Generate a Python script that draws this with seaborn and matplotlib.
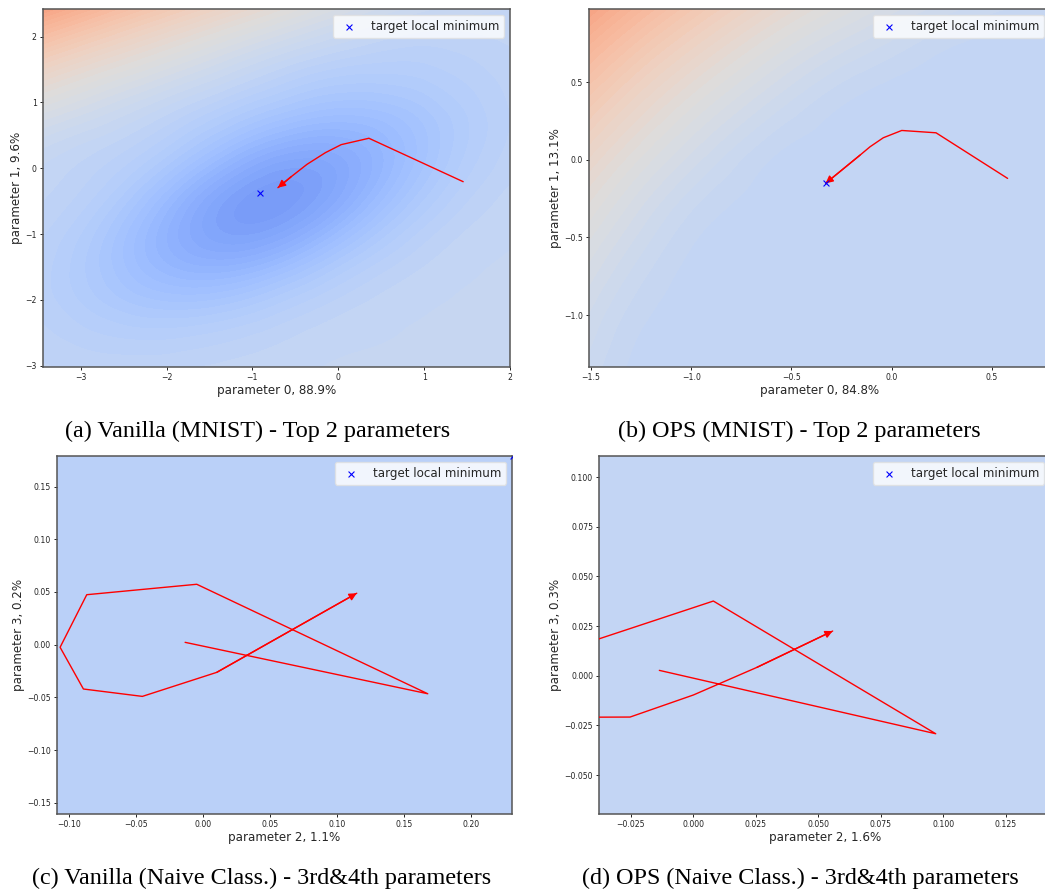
import numpy as np
import pandas as pd
import matplotlib
matplotlib.use('Agg')
import matplotlib.pyplot as plt
import matplotlib.tri as mtri
from matplotlib.ticker import MultipleLocator
import seaborn as sns

sns.set_style('ticks')
plt.rcParams['font.family'] = ['DejaVu Sans']

# ---------------- trajectories ----------------
a_path_x = [1.455, 0.357, 0.034, -0.150, -0.364, -0.550, -0.703]
a_path_y = [-0.204, 0.456, 0.359, 0.237, 0.060, -0.130, -0.295]
a_target = [-0.917, -0.371]

b_path_x = [0.578, 0.221, 0.050, -0.042, -0.108, -0.158, -0.330]
b_path_y = [-0.119, 0.175, 0.190, 0.143, 0.085, 0.031, -0.151]
b_target = [-0.330, -0.151]

c_path_x = [-0.0134, 0.1677, -0.0047, -0.0868, -0.1067, -0.0893, -0.0453, 0.0102, 0.1147]
c_path_y = [0.0022, -0.0466, 0.0573, 0.0474, -0.0025, -0.0421, -0.0491, -0.0263, 0.0488]
c_target = [0.2315, 0.1795]

d_path_x = [-0.0136, 0.0969, 0.0080, -0.047, -0.057, -0.047, -0.0253, 0.0000, 0.0254, 0.0557]
d_path_y = [0.0027, -0.0292, 0.0376, 0.0147, -0.003, -0.0209, -0.0208, -0.0097, 0.0042, 0.0225]
d_target = [0.160, 0.130]

# ---------------- loss surfaces (colour level, coarse grids) ----------------
a_grid_x = [-3.60, -3.02, -2.44, -1.86, -1.28, -0.70, -0.12, 0.46, 1.04, 1.62, 2.20]
a_grid_y = [-3.20, -2.62, -2.04, -1.46, -0.88, -0.30, 0.28, 0.86, 1.44, 2.02, 2.60]
a_loss = [
    [0.406, 0.402, 0.401, 0.404, 0.408, 0.412, 0.414, 0.415, 0.415, 0.415, 0.415],
    [0.396, 0.384, 0.376, 0.377, 0.386, 0.398, 0.408, 0.412, 0.414, 0.415, 0.415],
    [0.388, 0.363, 0.337, 0.325, 0.334, 0.360, 0.386, 0.403, 0.411, 0.414, 0.415],
    [0.389, 0.355, 0.308, 0.268, 0.259, 0.287, 0.335, 0.376, 0.400, 0.411, 0.414],
    [0.398, 0.368, 0.314, 0.250, 0.206, 0.212, 0.263, 0.327, 0.376, 0.402, 0.411],
    [0.407, 0.389, 0.350, 0.287, 0.224, 0.194, 0.218, 0.280, 0.343, 0.386, 0.406],
    [0.429, 0.408, 0.386, 0.347, 0.294, 0.249, 0.239, 0.271, 0.324, 0.371, 0.399],
    [0.485, 0.456, 0.427, 0.396, 0.362, 0.329, 0.307, 0.310, 0.336, 0.370, 0.395],
    [0.564, 0.525, 0.491, 0.458, 0.425, 0.393, 0.369, 0.362, 0.368, 0.383, 0.398],
    [0.661, 0.615, 0.572, 0.533, 0.496, 0.462, 0.432, 0.408, 0.396, 0.399, 0.405],
    [0.777, 0.723, 0.672, 0.625, 0.581, 0.541, 0.504, 0.471, 0.444, 0.425, 0.413],
]

b_grid_x = [-1.60, -1.25, -0.90, -0.55, -0.20, 0.15, 0.50, 0.85]
b_grid_y = [-1.40, -1.05, -0.70, -0.35, 0.00, 0.35, 0.70, 1.05]
b_loss = [
    [0.445, 0.406, 0.405, 0.405, 0.405, 0.405, 0.405, 0.405],
    [0.462, 0.414, 0.405, 0.405, 0.405, 0.405, 0.405, 0.405],
    [0.488, 0.431, 0.405, 0.405, 0.405, 0.405, 0.405, 0.405],
    [0.522, 0.458, 0.415, 0.405, 0.405, 0.405, 0.405, 0.405],
    [0.567, 0.497, 0.443, 0.409, 0.405, 0.405, 0.405, 0.405],
    [0.622, 0.547, 0.486, 0.439, 0.410, 0.405, 0.405, 0.405],
    [0.688, 0.608, 0.542, 0.487, 0.446, 0.418, 0.405, 0.405],
    [0.764, 0.682, 0.611, 0.551, 0.503, 0.465, 0.438, 0.420],
]

c_grid_x = [-0.2, 0.3]
c_grid_y = [-0.2, 0.25]
c_loss = [[0.38, 0.38], [0.38, 0.38]]

d_grid_x = [-0.1, 0.2]
d_grid_y = [-0.1, 0.15]
d_loss = [[0.405, 0.405], [0.405, 0.405]]

x_labels = ['parameter 0, 88.9%', 'parameter 0, 84.8%', 'parameter 2, 1.1%', 'parameter 2, 1.6%']
y_labels = ['parameter 1, 9.6%', 'parameter 1, 13.1%', 'parameter 3, 0.2%', 'parameter 3, 0.3%']
captions = [
    '(a) Vanilla (MNIST) - Top 2 parameters',
    '(b) OPS (MNIST) - Top 2 parameters',
    '(c) Vanilla (Naive Class.) - 3rd&4th parameters',
    '(d) OPS (Naive Class.) - 3rd&4th parameters',
]
legend_label = 'target local minimum'

LEVELS = np.arange(0, 1.0001, 0.0125)

fig = plt.figure(figsize=(10.45, 8.94), dpi=100)
rects = [
    [0.0411, 0.5895, 0.4469, 0.4004],
    [0.5636, 0.5895, 0.4411, 0.4004],
    [0.0543, 0.0895, 0.4357, 0.4004],
    [0.5735, 0.0895, 0.4313, 0.4004],
]
limits = [
    ((-3.44, 2.0), (-3.02, 2.42), 1.0, 1.0),
    ((-1.51, 0.789), (-1.335, 0.973), 0.5, 0.5),
    ((-0.1092, 0.2306), (-0.1607, 0.179), 0.05, 0.05),
    ((-0.0376, 0.1426), (-0.0696, 0.1106), 0.025, 0.025),
]
fields = [(a_grid_x, a_grid_y, a_loss), (b_grid_x, b_grid_y, b_loss),
          (c_grid_x, c_grid_y, c_loss), (d_grid_x, d_grid_y, d_loss)]
paths = [(a_path_x, a_path_y, a_target), (b_path_x, b_path_y, b_target),
         (c_path_x, c_path_y, c_target), (d_path_x, d_path_y, d_target)]

for i in range(4):
    ax = fig.add_axes(rects[i])
    gx, gy, z = fields[i]
    GX, GY = np.meshgrid(gx, gy)
    tri = mtri.Triangulation(GX.ravel(), GY.ravel())
    tri_r, z_r = mtri.UniformTriRefiner(tri).refine_field(np.asarray(z, float).ravel(), subdiv=4)
    ax.tricontourf(tri_r, z_r, levels=LEVELS, cmap='coolwarm', vmin=0, vmax=1, zorder=0)

    px, py, tgt = paths[i]
    df = pd.DataFrame({'x': px, 'y': py})
    sns.lineplot(data=df, x='x', y='y', sort=False, estimator=None, color='red', lw=1.0, ax=ax, zorder=3)
    ax.annotate('', xy=(px[-1], py[-1]), xytext=(px[-2], py[-2]),
                arrowprops=dict(arrowstyle='-|>', color='red', lw=1.0, mutation_scale=11,
                                shrinkA=0, shrinkB=0), zorder=4)
    sns.scatterplot(x=[tgt[0]], y=[tgt[1]], marker='x', color='blue', s=18, linewidth=0.8,
                    label=legend_label, ax=ax, zorder=5)

    xl, yl, xs, ys = limits[i]
    ax.set_xlim(*xl)
    ax.set_ylim(*yl)
    ax.xaxis.set_major_locator(MultipleLocator(xs))
    ax.yaxis.set_major_locator(MultipleLocator(ys))
    ax.tick_params(labelsize=5.6, length=2.5, width=0.7, pad=2, colors='#222222')
    for sp in ax.spines.values():
        sp.set_color('#555555')
        sp.set_linewidth(1.1)
    ax.set_xlabel(x_labels[i], fontsize=8.6, labelpad=1)
    ax.set_ylabel(y_labels[i], fontsize=8.6, labelpad=1.5)
    ax.legend(loc='upper right', fontsize=8.6, frameon=True, framealpha=0.8, edgecolor='#e0e0e0')

cap_pos = [(0.2464, 0.518), (0.7646, 0.518), (0.2507, 0.0179), (0.7656, 0.0179)]
for (x, y), s in zip(cap_pos, captions):
    fig.text(x, y, s, ha='center', va='center', family='Liberation Serif', fontsize=17.4, color='black')

fig.savefig('out.png', dpi=100)
